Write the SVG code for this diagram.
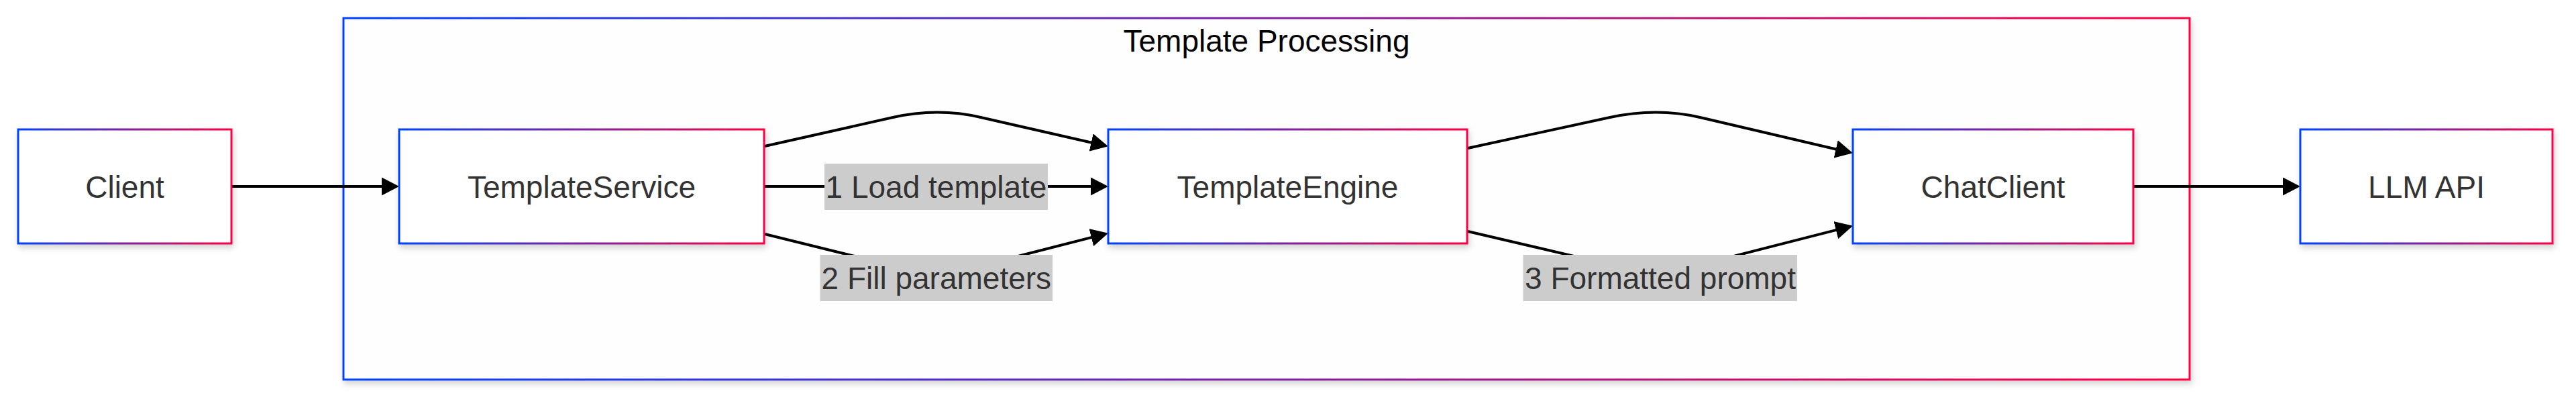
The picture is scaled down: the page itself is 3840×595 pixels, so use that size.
<svg xmlns="http://www.w3.org/2000/svg" width="3840" height="595" viewBox="0 0 3840 595">
  <defs>
    <linearGradient id="edgeGrad" x1="0" y1="0" x2="1" y2="0">
      <stop offset="0" stop-color="#0042ff"/>
      <stop offset="1" stop-color="#ff0042"/>
    </linearGradient>
    <filter id="shadow" x="-10%" y="-20%" width="120%" height="150%">
      <feDropShadow dx="2" dy="5" stdDeviation="5" flood-color="#000" flood-opacity="0.18"/>
    </filter>
    <marker id="arrow" viewBox="0 0 10 10" refX="8.08" refY="5" markerUnits="userSpaceOnUse" markerWidth="26" markerHeight="27" preserveAspectRatio="none" orient="auto">
      <path d="M0,0 L10,5 L0,10 z" fill="#000"/>
    </marker>
  </defs>
  <style>
    .box { fill: #ffffff; stroke: url(#edgeGrad); stroke-width: 3; filter: url(#shadow); }
    .cluster { fill: #fefefe; stroke: url(#edgeGrad); stroke-width: 3; filter: url(#shadow); }
    .label { font-family: "Liberation Sans", Arial, sans-serif; font-size: 46px; fill: #333333; text-anchor: middle; }
    .title { font-family: "Liberation Sans", Arial, sans-serif; font-size: 46px; fill: #000000; text-anchor: middle; }
    .edge { fill: none; stroke: #000; stroke-width: 4; marker-end: url(#arrow); }
    .elbg { fill: #cccccc; }
  </style>
  <rect width="3840" height="595" fill="#ffffff"/>

  <g id="cluster-template-processing">
    <rect class="cluster" x="512" y="27" width="2752" height="539"/>
    <text class="title" x="1888" y="77">Template Processing</text>
  </g>

  <g id="connectors">
    <path class="edge" d="M345,278 L590,278"/>
    <path class="edge" d="M1140,218 L1330,175.3 Q1397,160 1462,175 L1647.1,217.2"/>
    <path class="edge" d="M1140,278 L1647,278"/>
    <path class="edge" d="M1140,349 L1335,397.2 Q1399,413 1463,396 L1647.2,348.9"/>
    <path class="edge" d="M2188,221 L2400,175 Q2470,160 2534,175 L2757.1,227.2"/>
    <path class="edge" d="M2188,345 L2400,394.6 Q2470,411 2540,393.3 L2757.2,337.9"/>
    <path class="edge" d="M3180,278 L3424,278"/>
    <g id="edge-labels">
      <rect class="elbg" x="1229" y="244" width="333" height="69"/>
      <text class="label" x="1395.5" y="295">1 Load template</text>
      <rect class="elbg" x="1222.5" y="380" width="346.5" height="69"/>
      <text class="label" x="1395.8" y="431">2 Fill parameters</text>
      <rect class="elbg" x="2270.5" y="380" width="408.5" height="69"/>
      <text class="label" x="2475" y="431">3 Formatted prompt</text>
    </g>
  </g>

  <g id="node-client">
    <rect class="box" x="27" y="193" width="318" height="170"/>
    <text class="label" x="186" y="294.5">Client</text>
  </g>
  <g id="node-templateservice">
    <rect class="box" x="595" y="193" width="544" height="170"/>
    <text class="label" x="867" y="294.5">TemplateService</text>
  </g>
  <g id="node-templateengine">
    <rect class="box" x="1652" y="193" width="535" height="170"/>
    <text class="label" x="1919.5" y="294.5">TemplateEngine</text>
  </g>
  <g id="node-chatclient">
    <rect class="box" x="2762" y="193" width="418" height="170"/>
    <text class="label" x="2971" y="294.5">ChatClient</text>
  </g>
  <g id="node-llmapi">
    <rect class="box" x="3429" y="193" width="376" height="170"/>
    <text class="label" x="3617" y="294.5">LLM API</text>
  </g>
</svg>
